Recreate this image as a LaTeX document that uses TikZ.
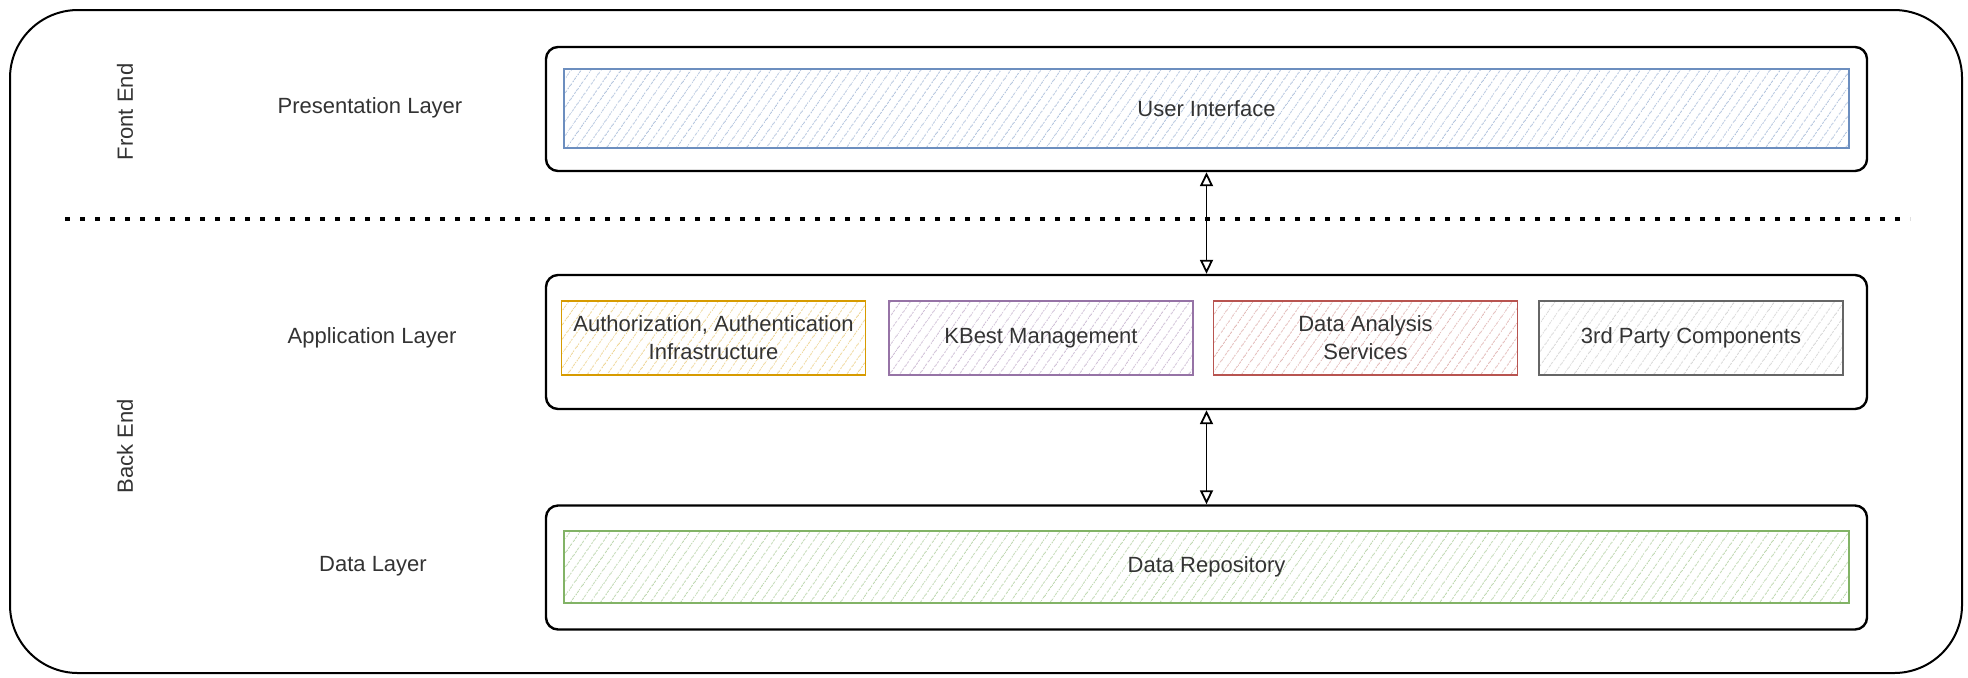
\documentclass[tikz,border=0pt]{standalone}
\usepackage{fontspec}
\setmainfont{Liberation Sans}
\usepackage{tikz}
\usetikzlibrary{arrows.meta,patterns.meta,positioning}

\definecolor{uiLine}{HTML}{6C8EBF}
\definecolor{authLine}{HTML}{D79B00}
\definecolor{kbLine}{HTML}{9673A6}
\definecolor{daLine}{HTML}{B85450}
\definecolor{tpLine}{HTML}{666666}
\definecolor{repoLine}{HTML}{82B366}
\definecolor{ink}{HTML}{333333}

\begin{document}
\begin{tikzpicture}[x=0.5pt, y=-0.5pt]
	\tikzstyle{Frame}	= [draw, line width=1pt, rounded corners=34pt, fill=white]
	\tikzstyle{Layer}	= [draw, line width=1.2pt, rounded corners=6pt, fill=white, minimum width=660.5pt, inner sep=0pt]
	\tikzstyle{Part}	= [draw, line width=0.9pt, inner sep=0pt, text=ink, align=center, font=\fontsize{11}{14}\selectfont, pattern={Lines[angle=55,distance=4pt,line width=0.5pt]}]
	\tikzstyle{Wide}	= [minimum width=642.5pt]
	\tikzstyle{Small}	= [minimum width=152pt, minimum height=37pt]
	\tikzstyle{Caption}	= [text=ink, font=\fontsize{11}{14}\selectfont]
	\tikzstyle{Link}	= [{Triangle[open,length=7pt,width=6.5pt]}-{Triangle[open,length=7pt,width=6.5pt]}, line width=0.9pt]
	\tikzstyle{Divider}	= [line width=2.4pt, dash pattern=on 2.5pt off 5pt]

	\useasboundingbox (0,0) rectangle (1968,677);
	\draw [Frame] (10,10) rectangle (1962,673);

	% layers
	\node (pres) at (1206.5,109) [Layer, minimum height=62pt] {};
	\node (app) at (1206.5,342) [Layer, minimum height=67pt] {};
	\node (data) at (1206.5,567.5) [Layer, minimum height=62pt] {};

	\node (ui) at (1206.5,108.5) [Part][Wide, minimum height=39.5pt, draw=uiLine, pattern color=uiLine!50] {User Interface};
	\node (auth) at (713.5,338) [Part][Small, draw=authLine, pattern color=authLine!40] {Authorization, Authentication\\Infrastructure};
	\node (kbest) at (1041,338) [Part][Small, draw=kbLine, pattern color=kbLine!45] {KBest Management};
	\node (analysis) at (1365.5,338) [Part][Small, draw=daLine, pattern color=daLine!40] {Data Analysis\\Services};
	\node (party) at (1691,338) [Part][Small, draw=tpLine, pattern color=tpLine!25] {3rd Party Components};
	\node (repo) at (1206.5,567) [Part][Wide, minimum height=36pt, draw=repoLine, pattern color=repoLine!50] {Data Repository};

	% captions
	\node (front) at (125,112) [Caption, rotate=90] {Front End};
	\node (back) at (125,446) [Caption, rotate=90] {Back End};
	\node (presL) at (370,108) [Caption] {Presentation Layer};
	\node (appL) at (372,338) [Caption] {Application Layer};
	\node (dataL) at (373,566) [Caption] {Data Layer};

	\coordinate (cutL) at (65,219);
	\coordinate (cutR) at (1910,219);
	\draw [Divider] (cutL) -- (cutR);

	\draw [Link] (pres.south) -- (app.north);
	\draw [Link] (app.south) -- (data.north);
\end{tikzpicture}
\end{document}
